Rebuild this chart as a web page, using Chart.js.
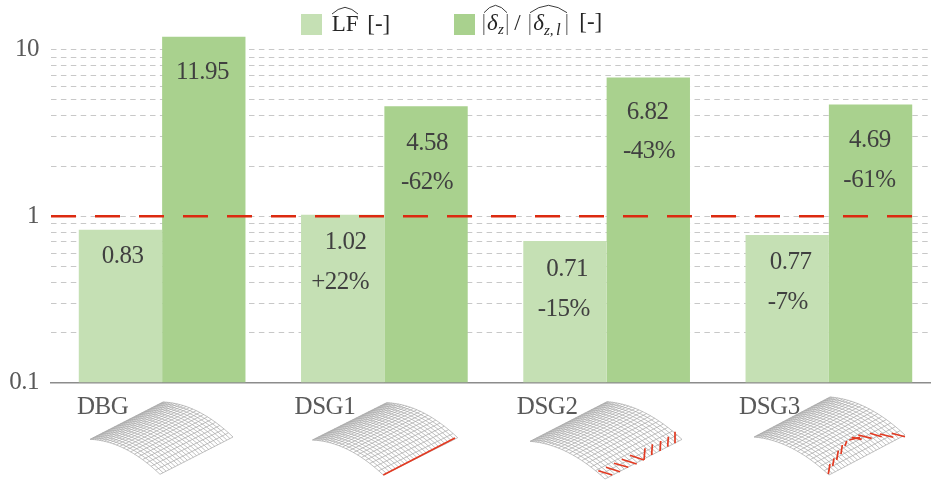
<!DOCTYPE html>
<html>
<head>
<meta charset="utf-8">
<title>Load factor and deflection ratio</title>
<script src="https://cdn.jsdelivr.net/npm/chart.js@4"></script>
<style>
  html, body { margin: 0; background: #fff; overflow: hidden; width: 931px; height: 480px; }
  canvas { display: block; }
</style>
</head>
<body>
<canvas id="chart" width="940" height="480"></canvas>
<script>
const categories = ["DBG", "DSG1", "DSG2", "DSG3"];
const lfValues = [0.83, 1.02, 0.71, 0.77];
const dzValues = [11.95, 4.58, 6.82, 4.69];
const lfChange = ["", "+22%", "-15%", "-7%"];
const dzChange = ["", "-62%", "-43%", "-61%"];
const yGridValues = [0.1, 0.2, 0.3, 0.4, 0.5, 0.6, 0.7, 0.8, 0.9, 1, 2, 3, 4, 5, 6, 7, 8, 9, 10];
const yLabels = [0.1, 1, 10];
const refValue = 1;

const serif = '"Liberation Serif", "Times New Roman", serif';
const LIGHT = "#c5e0b4";
const DARK = "#a9d18e";
const RED = "#dc2a10";

// label nudges from the top centre of each bar: [dx value, dy value, dx change, dy change]
const lfNudge = [[2.2, 26.5, 0, 0], [2.9, 28.1, -2.6, 68.1], [2.2, 28.3, -1.1, 68.3], [3.4, 27.1, 0.6, 67.8]];
const dzNudge = [[-1.3, 35.2, 0, 0], [1, 37, 1, 76], [-0.6, 34.7, 0.7, 73.7], [-0.6, 35.6, -1.1, 75.6]];

// shell thumbnails: left, top, right, bottom corners of the mesh
const shells = [
  [[90, 439.3], [163, 402], [232.7, 437.3], [160, 474.3]],
  [[312.3, 440], [386.7, 402.7], [455, 438], [383.3, 475]],
  [[530, 441.3], [607, 401.7], [684, 440], [605, 479]],
  [[754, 437], [830, 397], [905, 436], [829, 475]]
];
const stiffeners = [
  [],
  [[383.3, 475, 455, 438]],
  [[598.3, 470.7, 612.3, 475], [606, 467.3, 620, 471.7], [614, 463.3, 628.3, 467.3], [621.7, 459.3, 636.7, 464],
   [630, 455.3, 644, 460], [644, 460, 645, 448.3], [651.7, 455, 652.3, 444.3], [660, 451, 660.7, 441],
   [667.7, 446.7, 668.3, 436.7], [675, 443.3, 675, 431.7]],
  [[828.3, 474, 830, 464], [832.7, 466, 834, 458.3], [836.7, 460, 838.3, 450.7], [841, 454, 842.3, 445],
   [845, 446, 846.7, 441], [849.3, 440, 860, 437.3], [851.7, 437.3, 861.7, 439.3], [858.3, 435, 871.7, 438.3],
   [870, 433.3, 881.7, 436.7], [880, 434, 893.3, 437.3], [891.7, 433.3, 905, 436.7]]
];

function shellPoint(s, u, v) {
  const rise = 8 * 4 * v * (1 - v);
  const x = s[0][0] + u * (s[1][0] - s[0][0]) + v * (s[3][0] - s[0][0]);
  const y = s[0][1] + u * (s[1][1] - s[0][1]) + v * (s[3][1] - s[0][1]) - rise;
  return [x, y];
}

function drawShell(ctx, s) {
  const nu = 24, nv = 23, steps = 16;
  ctx.strokeStyle = "#a6a6a6";
  ctx.lineWidth = 0.7;
  for (let i = 0; i <= nv; i++) {
    const v = Math.pow(i / nv, 1.5);
    ctx.beginPath();
    for (let k = 0; k <= 1; k++) {
      const p = shellPoint(s, k, v);
      k ? ctx.lineTo(p[0], p[1]) : ctx.moveTo(p[0], p[1]);
    }
    ctx.stroke();
  }
  for (let i = 0; i <= nu; i++) {
    ctx.beginPath();
    for (let k = 0; k <= steps; k++) {
      const p = shellPoint(s, i / nu, k / steps);
      k ? ctx.lineTo(p[0], p[1]) : ctx.moveTo(p[0], p[1]);
    }
    ctx.stroke();
  }
}

function drawHat(ctx, x0, x1, peak, foot) {
  const mid = (x0 + x1) / 2;
  ctx.beginPath();
  ctx.moveTo(x0, foot);
  ctx.quadraticCurveTo(x0 + (mid - x0) * 0.45, peak + 1, mid, peak);
  ctx.quadraticCurveTo(x1 - (x1 - mid) * 0.45, peak + 1, x1, foot);
  ctx.stroke();
}

function put(ctx, text, x, y, font, color) {
  ctx.font = font;
  ctx.fillStyle = color;
  ctx.fillText(text, x, y);
}

const decorations = {
  id: "decorations",
  // the source figure is slightly stretched vertically, so its type runs tall and narrow
  beforeDraw(chart) { chart.ctx.letterSpacing = "-0.5px"; },
  afterDatasetsDraw(chart) {
    const ctx = chart.ctx;
    const area = chart.chartArea;
    const refY = chart.scales.y.getPixelForValue(refValue);
    ctx.save();
    // the 1.0 limit line stops short of the cropped right edge
    ctx.strokeStyle = RED;
    ctx.lineWidth = 2.5;
    ctx.setLineDash([25, 19]);
    ctx.beginPath();
    ctx.moveTo(area.left, refY);
    ctx.lineTo(area.left + area.width * 0.971, refY);
    ctx.stroke();
    ctx.setLineDash([]);

    ctx.textAlign = "center";
    ctx.textBaseline = "middle";
    const font = "25px " + serif;
    [[0, lfValues, lfChange, lfNudge], [1, dzValues, dzChange, dzNudge]].forEach(([ds, vals, change, nudge]) => {
      const bars = chart.getDatasetMeta(ds).data;
      vals.forEach((val, i) => {
        const n = nudge[i];
        put(ctx, val.toFixed(2), bars[i].x + n[0], bars[i].y + n[1], font, "#404040");
        if (change[i]) put(ctx, change[i], bars[i].x + n[2], bars[i].y + n[3], font, "#404040");
      });
    });
    ctx.restore();
  },
  afterDraw(chart) {
    const ctx = chart.ctx;
    ctx.save();
    ctx.letterSpacing = "0px";
    ctx.filter = "blur(0.3px)";
    shells.forEach(s => drawShell(ctx, s));
    ctx.strokeStyle = "#e23a22";
    ctx.lineWidth = 1.7;
    stiffeners.forEach(list => list.forEach(l => {
      ctx.beginPath();
      ctx.moveTo(l[0], l[1]);
      ctx.lineTo(l[2], l[3]);
      ctx.stroke();
    }));
    ctx.filter = "none";

    // legend
    ctx.fillStyle = LIGHT;
    ctx.fillRect(301, 14, 21, 21);
    ctx.fillStyle = DARK;
    ctx.fillRect(454, 14, 21, 21);
    ctx.textAlign = "left";
    ctx.textBaseline = "alphabetic";
    const ink = "#262626", bar = "#707070";
    const reg = "23px " + serif, ital = "italic 23px " + serif, sub = "italic 15px " + serif;
    put(ctx, "LF", 331.7, 30.7, reg, ink);
    put(ctx, "[-]", 367.3, 30.7, reg, ink);
    put(ctx, "|", 481.5, 30, reg, bar);
    put(ctx, "δ", 487, 30, ital, ink);
    put(ctx, "z", 498, 33.5, sub, ink);
    put(ctx, "|", 505, 30, reg, bar);
    put(ctx, "/", 514.3, 30, reg, ink);
    put(ctx, "|", 527.5, 30, reg, bar);
    put(ctx, "δ", 533.3, 30, ital, ink);
    put(ctx, "z,", 544, 35, sub, ink);
    put(ctx, "l", 556, 35, "italic 17px " + serif, ink);
    put(ctx, "|", 564.5, 30, reg, bar);
    put(ctx, "[-]", 579.3, 29.3, reg, ink);
    ctx.strokeStyle = ink;
    ctx.lineWidth = 0.9;
    drawHat(ctx, 332, 358, 7.3, 14);
    drawHat(ctx, 484, 507, 5.3, 12.7);
    drawHat(ctx, 530, 567, 5.3, 12.7);
    ctx.restore();
  }
};

new Chart(document.getElementById("chart"), {
  type: "bar",
  data: {
    labels: categories,
    datasets: [
      { label: "LF", data: lfValues, backgroundColor: LIGHT, categoryPercentage: 0.75, barPercentage: 1 },
      { label: "dz", data: dzValues, backgroundColor: DARK, categoryPercentage: 0.75, barPercentage: 1 }
    ]
  },
  options: {
    responsive: false,
    animation: false,
    layout: { padding: { top: 33.6, right: 0, bottom: 0, left: 0 } },
    plugins: { legend: { display: false }, tooltip: { enabled: false } },
    scales: {
      x: {
        grid: { display: false },
        border: { color: "#8c8c8c", width: 1.5 },
        ticks: {
          color: "#595959",
          font: { family: serif, size: 25 },
          padding: 2,
          labelOffset: -59.5,
          maxRotation: 0,
          autoSkip: false
        },
        afterFit(scale) { scale.height = 97.4; }
      },
      y: {
        type: "logarithmic",
        min: 0.1,
        max: 12.5,
        afterBuildTicks(scale) { scale.ticks = yGridValues.map(v => ({ value: v })); },
        afterFit(scale) { scale.width = 51; },
        border: { display: false, dash: [5.5, 4.4] },
        grid: { color: "#c8c8c8", lineWidth: 1, drawTicks: false },
        ticks: {
          color: "#595959",
          font: { family: serif, size: 25 },
          padding: 12,
          autoSkip: false,
          callback: v => (yLabels.includes(v) ? String(v) : "")
        }
      }
    }
  },
  plugins: [decorations]
});
</script>
</body>
</html>
